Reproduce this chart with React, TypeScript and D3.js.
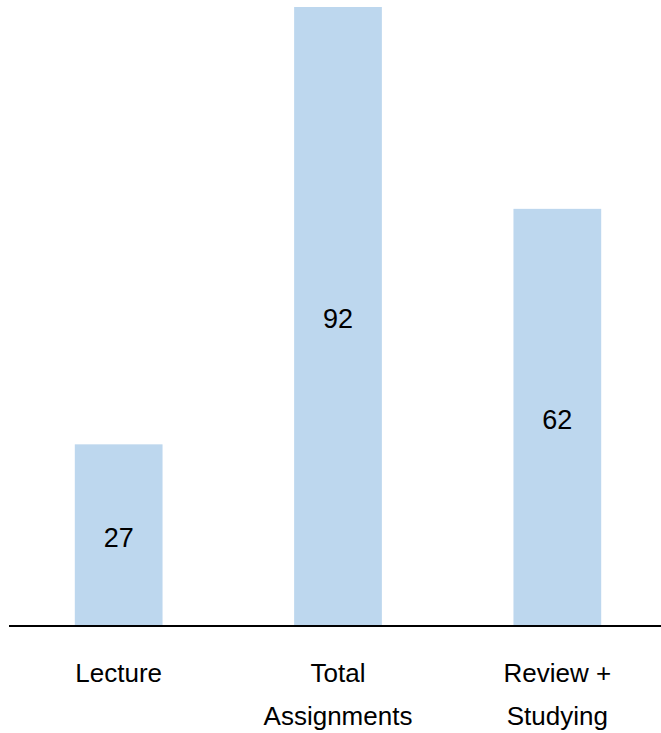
import React from "react";
import * as d3 from "d3";

const categories = ["Lecture", "Total Assignments", "Review + Studying"];
const tickLines = [["Lecture"], ["Total", "Assignments"], ["Review +", "Studying"]];
const values = [27, 92, 62];

const width = 661,
  height = 733;

const App = () => {
  const x = d3
    .scaleBand<string>()
    .domain(categories)
    .range([9, 667])
    .paddingInner(0.6)
    .paddingOuter(0.3);

  const y = d3.scaleLinear().domain([0, 92]).range([626, 7]);

  const font = "'Liberation Sans', Arial, sans-serif";

  return (
    <div style={{ position: "absolute", left: 0, top: 0 }}>
      <svg width={width} height={height} style={{ display: "block" }}>
        <rect width={width} height={height} fill="#fff" />
        {categories.map((c, i) => (
          <g key={c}>
            <rect
              x={x(c)}
              y={y(values[i])}
              width={x.bandwidth()}
              height={y(0) - y(values[i])}
              fill="#bdd7ee"
            />
            <text
              x={(x(c) as number) + x.bandwidth() / 2}
              y={(y(values[i]) + y(0)) / 2 + 2}
              dy="0.36em"
              textAnchor="middle"
              fontFamily={font}
              fontSize={27}
              fill="#000"
            >
              {values[i]}
            </text>
            <text
              x={(x(c) as number) + x.bandwidth() / 2}
              y={673}
              textAnchor="middle"
              fontFamily={font}
              fontSize={26}
              fill="#000"
            >
              {tickLines[i].map((t, j) => (
                <tspan key={j} x={(x(c) as number) + x.bandwidth() / 2} dy={j === 0 ? "0.36em" : 43}>
                  {t}
                </tspan>
              ))}
            </text>
          </g>
        ))}
        <line x1={9} x2={661} y1={626} y2={626} stroke="#000" strokeWidth={2} />
      </svg>
    </div>
  );
};

export default App;
